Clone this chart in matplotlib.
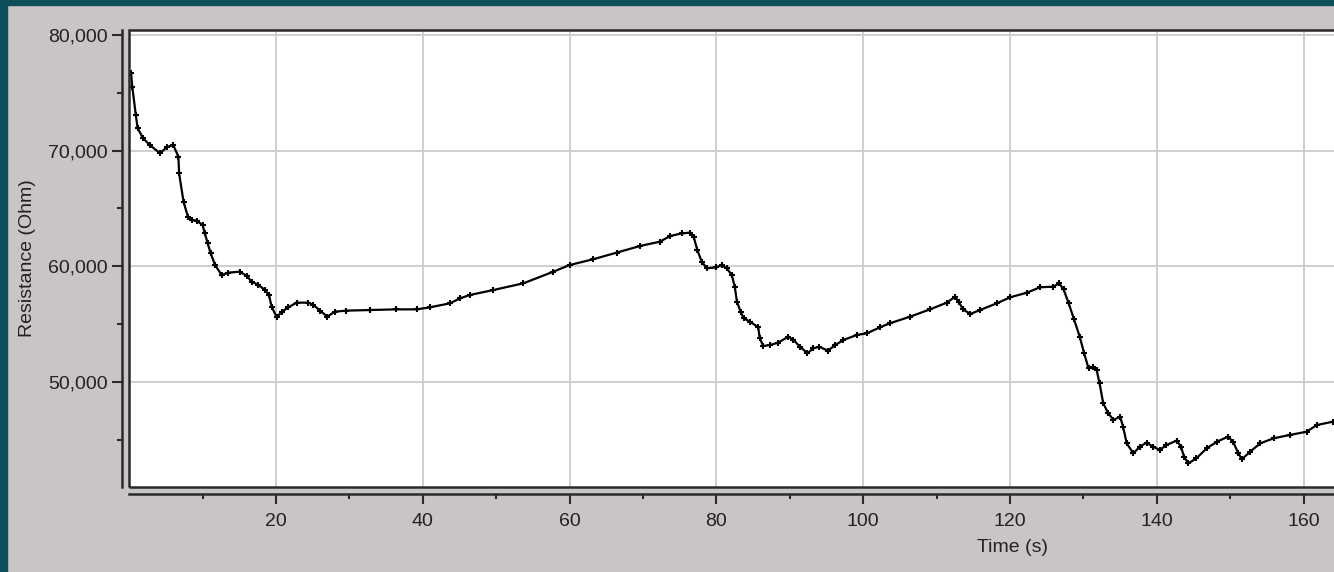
import matplotlib.pyplot as plt
from matplotlib.patches import Rectangle
from matplotlib.ticker import MultipleLocator, FixedLocator, FuncFormatter

# Time (s) and resistance (Ohm)
time_s = [0.25, 0.42, 0.9, 1.15, 1.9, 2.8, 4.2, 5.1, 6.0, 6.7, 6.8, 7.4, 8.0, 8.5, 9.2,
          10.0, 10.3, 10.7, 11.1, 11.7, 12.6, 13.5, 15.1, 16.0, 16.7, 17.6, 18.5, 19.05,
          19.4, 20.1, 20.8, 21.7, 22.8, 24.4, 25.1, 26.0, 27.0, 28.0, 29.6, 32.8, 36.4,
          39.2, 41.0, 43.7, 45.1, 46.4, 49.6, 53.7, 57.8, 60.0, 63.2, 66.4, 69.6, 72.3,
          73.7, 75.3, 76.4, 76.9, 77.4, 78.0, 78.7, 80.0, 80.7, 81.4, 82.1, 82.5, 82.8,
          83.3, 83.7, 84.6, 85.7, 85.9, 86.4, 87.3, 88.4, 89.8, 90.5, 91.4, 92.4, 93.2,
          94.0, 95.2, 96.2, 97.3, 99.1, 100.5, 102.3, 103.6, 106.4, 109.1, 111.4, 112.5,
          113.0, 113.6, 114.6, 115.9, 118.2, 120.0, 122.3, 124.1, 125.9, 126.7, 127.3,
          128.0, 128.7, 129.5, 130.1, 130.7, 131.3, 131.8, 132.2, 132.7, 133.4, 134.1,
          135.0, 135.4, 135.9, 136.8, 137.7, 138.6, 139.5, 140.4, 141.3, 142.7, 143.3,
          143.7, 144.3, 145.4, 146.8, 148.2, 149.7, 150.4, 151.1, 151.6, 152.7, 154.1,
          155.9, 158.1, 160.4, 161.8, 164.0]
resistance = [76700, 75530, 73080, 71930, 71070, 70490, 69770, 70290, 70490, 69480, 68040,
              65590, 64290, 64000, 63940, 63570, 62850, 61990, 61120, 60110, 59250, 59450,
              59540, 59160, 58670, 58390, 57950, 57520, 56510, 55600, 56080, 56460, 56860,
              56860, 56660, 56170, 55650, 56080, 56170, 56220, 56280, 56280, 56460, 56800,
              57240, 57520, 57950, 58530, 59540, 60110, 60610, 61180, 61760, 62130, 62620,
              62850, 62910, 62560, 61410, 60400, 59830, 59910, 60110, 59830, 59250, 58240,
              56940, 56080, 55510, 55210, 54730, 53780, 53110, 53200, 53400, 53920, 53630,
              53050, 52480, 52910, 53050, 52710, 53200, 53630, 54060, 54210, 54730, 55070,
              55650, 56280, 56860, 57370, 56940, 56280, 55880, 56220, 56800, 57320, 57720,
              58190, 58240, 58530, 58000, 56800, 55450, 53920, 52480, 51180, 51270, 51040,
              49890, 48160, 47290, 46720, 47000, 46140, 44700, 43840, 44410, 44760, 44410,
              44120, 44550, 44930, 44410, 43540, 42970, 43400, 44270, 44840, 45270, 44840,
              43840, 43320, 43970, 44700, 45130, 45420, 45700, 46280, 46570]

x_major = [20, 40, 60, 80, 100, 120, 140, 160]
x_minor = [10, 30, 50, 70, 90, 110, 130, 150]

W, H = 1334, 572
plt.rcParams['font.family'] = ['Liberation Sans', 'DejaVu Sans']

fig = plt.figure(figsize=(W / 100, H / 100), dpi=100)
fig.patch.set_facecolor('#c8c5c4')

# dark window border top and left
fig.patches.append(Rectangle((0, 0), 7 / W, 1, transform=fig.transFigure, color='#0e4f5e', zorder=0))
fig.patches.append(Rectangle((0, 1 - 5 / H), 1, 5 / H, transform=fig.transFigure, color='#0e4f5e', zorder=0))

x0_px, px_per_s = 129.2, 7.34
right_px = 1340
ax = fig.add_axes([x0_px / W, 1 - 487 / H, (right_px - x0_px) / W, (487 - 30) / H])
ax.set_facecolor('white')
ax.set_xlim(0, (right_px - x0_px) / px_per_s)
ax.set_ylim(40923, 80430)

ax.plot(time_s, resistance, color='black', lw=1.6, marker='+', ms=5, mew=1.5)

ax.xaxis.set_major_locator(FixedLocator(x_major))
ax.xaxis.set_minor_locator(FixedLocator(x_minor))
ax.yaxis.set_major_locator(MultipleLocator(10000))
ax.yaxis.set_minor_locator(MultipleLocator(5000))
ax.yaxis.set_major_formatter(FuncFormatter(lambda v, p: f'{v:,.0f}'))
ax.grid(True, which='major', color='#cccccc', lw=1.3)
ax.set_axisbelow(True)

for s in ['top', 'right']:
    ax.spines[s].set_visible(False)
ax.spines['left'].set_position(('outward', 5))
ax.spines['bottom'].set_position(('outward', 4.8))
for s in ['left', 'bottom']:
    ax.spines[s].set_linewidth(1.8)
    ax.spines[s].set_color('#2a2a2a')

ax.tick_params(which='major', length=7, width=1.5, color='#2a2a2a', labelsize=14, labelcolor='#222222')
ax.tick_params(which='minor', length=3.8, width=1.5, color='#2a2a2a')
ax.tick_params(axis='y', pad=3.5)
ax.tick_params(axis='x', pad=7)

# plot frame
ax.add_patch(Rectangle((0, 0), 1, 1, transform=ax.transAxes, fill=False,
                       ec='#2a2a2a', lw=1.8, clip_on=False, zorder=5))

fig.text(1013 / W, 1 - 548 / H, 'Time (s)', ha='center', va='center', fontsize=14, color='#222222')
fig.text(28 / W, 1 - 258 / H, 'Resistance (Ohm)', rotation=90, ha='center', va='center',
         fontsize=14, color='#222222')

fig.savefig('out.png', dpi=100, facecolor=fig.get_facecolor())
